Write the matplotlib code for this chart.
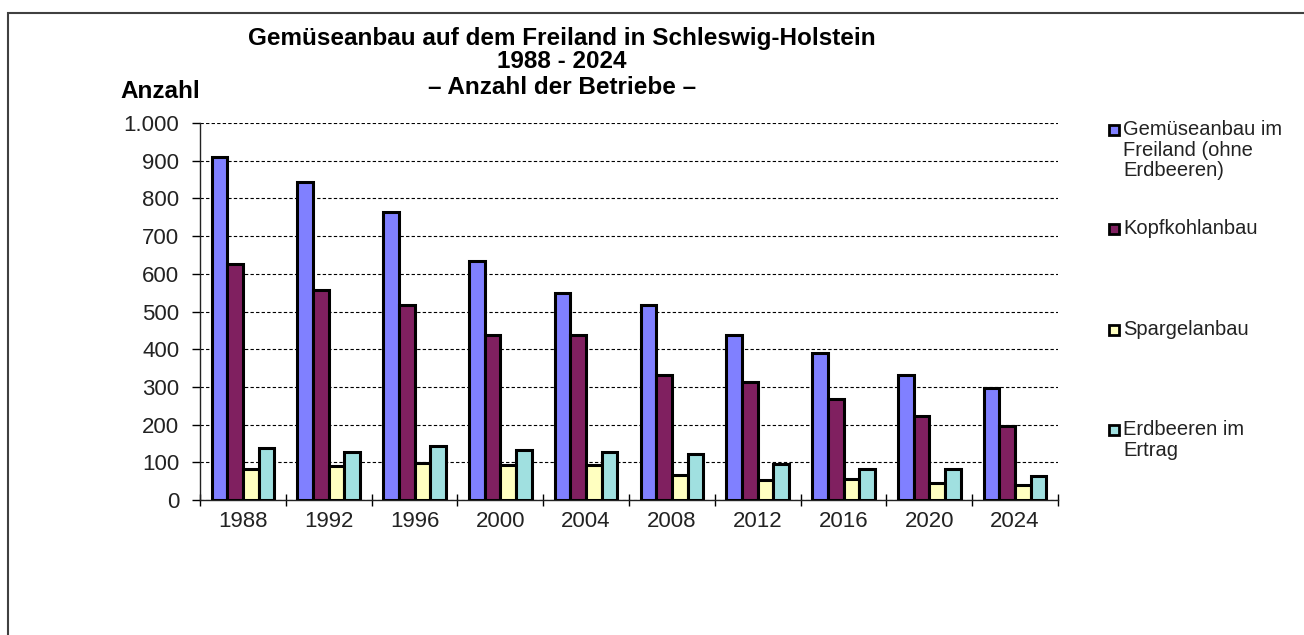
import numpy as np
import matplotlib
matplotlib.use("Agg")
import matplotlib.pyplot as plt
from matplotlib.patches import Rectangle

plt.rcParams['font.family'] = ['Liberation Sans', 'DejaVu Sans']

jahre = ['1988', '1992', '1996', '2000', '2004', '2008', '2012', '2016', '2020', '2024']
gemuese = [911, 844, 765, 633, 549, 517, 437, 391, 332, 296]
kopfkohl = [627, 558, 517, 437, 437, 332, 312, 267, 224, 197]
spargel = [83, 90, 97, 92, 92, 67, 52, 55, 44, 41]
erdbeeren = [138, 127, 143, 132, 127, 123, 95, 83, 83, 63]

namen = ['Gemüseanbau im\nFreiland (ohne\nErdbeeren)', 'Kopfkohlanbau',
         'Spargelanbau', 'Erdbeeren im\nErtrag']
farben = ['#8080FF', '#802060', '#FFFFC0', '#A0E0E0']

W, H = 1304, 635
fig = plt.figure(figsize=(W / 100, H / 100), dpi=100)
ax = fig.add_axes([200 / W, (H - 500) / H, 858 / W, 377 / H])

x = np.arange(len(jahre))
bw = 0.182
serien = [gemuese, kopfkohl, spargel, erdbeeren]
for i, (werte, farbe) in enumerate(zip(serien, farben)):
    ax.bar(x + (i - 1.5) * bw, werte, bw, color=farbe, edgecolor='black',
           linewidth=2.2, zorder=3)

ax.set_xlim(-0.5, len(jahre) - 0.5)
ax.set_ylim(0, 1000)
ax.set_yticks(np.arange(0, 1001, 100))
ax.set_yticklabels(['1.000' if v == 1000 else str(v) for v in range(0, 1001, 100)])
ax.set_xticks(x)
ax.set_xticklabels(jahre)
ax.set_xticks(np.arange(-0.5, len(jahre), 1), minor=True)
ax.tick_params(axis='x', which='major', length=0, pad=8, labelsize=16, labelcolor='#222222')
ax.tick_params(axis='x', which='minor', direction='inout', length=9, width=1)
ax.tick_params(axis='y', which='major', direction='out', length=6, width=1,
               pad=9, labelsize=16, labelcolor='#222222')
ax.grid(axis='y', color='black', linestyle=(0, (3, 2)), linewidth=0.8, zorder=0)
for s in ['top', 'right']:
    ax.spines[s].set_visible(False)
for s in ['left', 'bottom']:
    ax.spines[s].set_linewidth(1)
    ax.spines[s].set_color('#222222')

# Titel
tkw = dict(ha='center', va='center', fontsize=17.5, fontweight='bold')
fig.text(562 / W, 1 - 38 / H, 'Gemüseanbau auf dem Freiland in Schleswig-Holstein', **tkw)
fig.text(562 / W, 1 - 62 / H, '1988 - 2024', **tkw)
fig.text(562 / W, 1 - 87 / H, '– Anzahl der Betriebe –', **tkw)
fig.text(120 / W, 1 - 91 / H, 'Anzahl', ha='left', va='center',
         fontsize=17.5, fontweight='bold')

# Legende
leg_y = [130, 229, 330, 430]
for name, farbe, yy in zip(namen, farben, leg_y):
    fig.patches.append(Rectangle((1109 / W, 1 - (yy + 5) / H), 10 / W, 10 / H,
                                 transform=fig.transFigure, facecolor=farbe,
                                 edgecolor='black', linewidth=2))
    fig.text(1123 / W, 1 - (yy - 10) / H, name, ha='left', va='top',
             fontsize=14.5, color='#222222', linespacing=1.1)

# Rahmen
fig.patches.append(Rectangle((8 / W, -0.1), 1.2, 1 - 13 / H + 0.1,
                             transform=fig.transFigure, facecolor='none',
                             edgecolor='#404040', linewidth=1.5))

fig.savefig('out.png', dpi=100)
